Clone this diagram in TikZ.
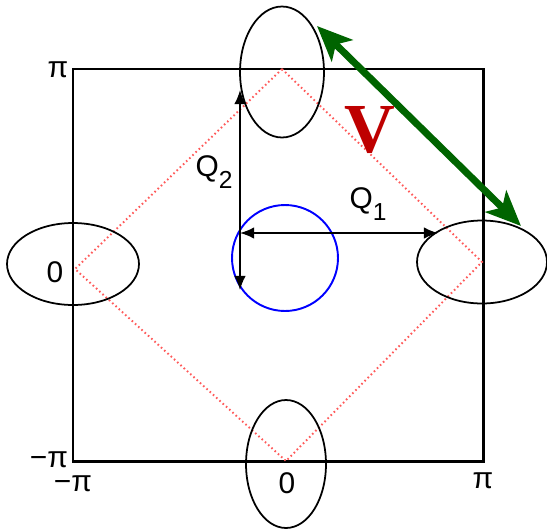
\documentclass[tikz,border=0pt]{standalone}
\usepackage{fontspec}
\setmainfont{Liberation Sans}
\newfontfamily\vfont{Liberation Serif}
\usetikzlibrary{shapes.geometric,arrows.meta}
\definecolor{vgreen}{RGB}{0,100,0}
\definecolor{vred}{RGB}{190,0,0}
\tikzset{
  zone/.style={ellipse, draw, line width=1pt, inner sep=0pt},
  lbl/.style={font=\fontsize{17}{19}\selectfont, inner sep=0pt},
  qarrow/.style={{Latex[length=8pt,width=6.5pt]}-{Latex[length=8pt,width=6.5pt]}, line width=0.9pt},
}
\newcommand{\qsub}[2]{#1\raisebox{-0.75ex}{\fontsize{14}{15}\selectfont #2}}
\begin{document}
\begin{tikzpicture}[x=0.02cm, y=-0.02cm]
    \useasboundingbox (0,0) rectangle (547,531);
    \draw[line width=1.7pt] (73,69) rectangle (483,461);
    % nesting at the zone boundary
    \draw[red!65, line width=1.1pt, dash pattern=on 0.9pt off 1.6pt] (282,69) -- (482,262) -- (286,461) -- (75,269) -- cycle;
    \node[zone, minimum width=1.68cm, minimum height=2.62cm] (top) at (282,72) {};
    \node[zone, minimum width=1.6cm, minimum height=2.56cm] (bot) at (286,464) {};
    \node[zone, minimum width=2.64cm, minimum height=1.64cm] (lft) at (73,264) {};
    \node[zone, minimum width=2.6cm, minimum height=1.66cm] (rgt) at (482,262) {};
    \draw[blue, line width=1.1pt] (285,258) circle (1.06cm);
    % nesting vectors
    \coordinate (o) at (240,233);
    \coordinate (q1) at (438,233);
    \coordinate (q2a) at (240,90);
    \coordinate (q2b) at (240,290);
    \draw[qarrow] (o) -- (q1);
    \draw[qarrow] (q2a) -- (q2b);
    \coordinate (va) at (317,26);
    \coordinate (vb) at (521,226);
    \draw[vgreen, line width=4pt, {Stealth[length=20pt,width=17pt,inset=5pt]}-{Stealth[length=20pt,width=17pt,inset=5pt]}] (va) -- (vb);
    \node[text=vred, font=\vfont\bfseries\fontsize{40}{42}\selectfont] (v) at (370,130) {V};
    \node[lbl] (q2lbl) at (214,172) {\qsub{Q}{2}};
    \node[lbl] (q1lbl) at (368,204) {\qsub{Q}{1}};
    % axis labels
    \node[lbl] (ypi) at (58,70) {π};
    \node[lbl] (yzero) at (55,272) {0};
    \node[lbl] (ympi) at (49,460) {−π};
    \node[lbl] (xmpi) at (73,484) {−π};
    \node[lbl] (xzero) at (287,483) {0};
    \node[lbl] (xpi) at (483,481) {π};
\end{tikzpicture}
\end{document}
